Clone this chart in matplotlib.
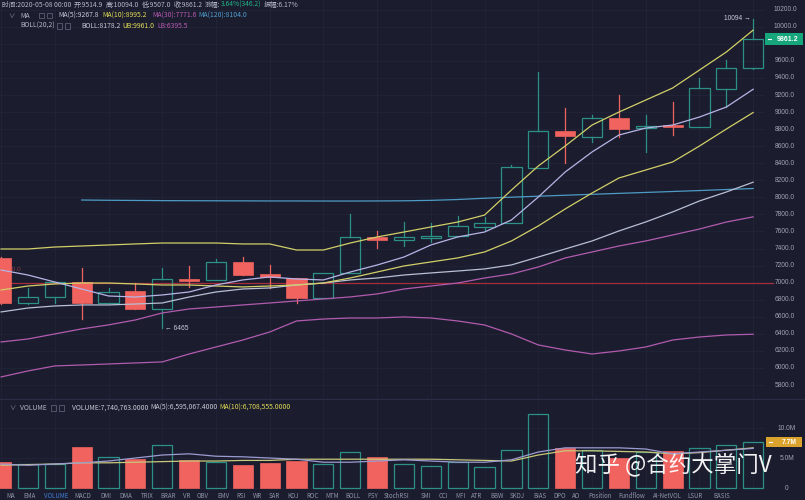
import numpy as np
import matplotlib
matplotlib.use('Agg')
import matplotlib.pyplot as plt
from matplotlib.patches import Rectangle
from matplotlib.transforms import blended_transform_factory

# ---------------- data ----------------
opens  = [7290, 6762, 6832, 7005, 6762, 6903, 6692, 7043, 7032, 7243, 7102, 7055, 6821, 7114,
          7533, 7500, 7524, 7547, 7653, 7700, 8342, 8776, 8706, 8929, 8813, 8848, 8825, 9270, 9514.9]
closes = [6762, 6832, 7008, 6762, 6895, 6692, 7043, 7025, 7243, 7090, 7067, 6821, 7114, 7536,
          7500, 7533, 7547, 7665, 7700, 8357, 8776, 8717, 8929, 8800, 8837, 8825, 9282, 9516, 9861.2]
highs  = [7300, 6937, 7008, 7172, 6937, 7000, 7172, 7196, 7278, 7301, 7207, 7055, 7114, 7805,
          7606, 7711, 7700, 7782, 7770, 8377, 9468, 9046, 8964, 9199, 8964, 9117, 9399, 9610, 10094]
lows   = [6750, 6750, 6762, 6575, 6762, 6692, 6465, 6950, 7032, 7090, 6938, 6762, 6821, 7114,
          7407, 7430, 7477, 7547, 7618, 7700, 8342, 8401, 8648, 8706, 8532, 8729, 8825, 9058, 9507]

ma5   = [7149, 7090, 7008, 6926, 6844, 6832, 6856, 6891, 6973, 7032, 7067, 7043, 7032, 7125,
         7207, 7301, 7442, 7536, 7594, 7735, 8004, 8297, 8532, 8731, 8813, 8848, 8942, 9059, 9267.8]
ma10  = [6914, 6961, 6985, 6996, 6996, 6985, 6973, 6973, 6961, 6950, 6961, 6973, 6996, 7055,
         7125, 7196, 7243, 7290, 7360, 7489, 7665, 7864, 8051, 8227, 8321, 8415, 8602, 8801, 8995.2]
ma30  = [6305, 6340, 6399, 6458, 6505, 6563, 6645, 6692, 6715, 6739, 6762, 6786, 6809, 6833,
         6868, 6926, 6961, 6996, 7055, 7102, 7184, 7290, 7360, 7430, 7489, 7559, 7629, 7711, 7771.6]
ma120 = [np.nan, np.nan, np.nan, 7969, 7966, 7964, 7962, 7961, 7960, 7959, 7958, 7958, 7957, 7957,
         7958, 7960, 7965, 7975, 7990, 8002, 8014, 8025, 8036, 8047, 8058, 8069, 8080, 8092, 8104.0]
boll  = [6657, 6703, 6727, 6739, 6739, 6750, 6762, 6832, 6891, 6926, 6938, 6973, 6996, 7032,
         7055, 7090, 7114, 7137, 7161, 7208, 7301, 7395, 7489, 7606, 7712, 7829, 7958, 8063, 8178.2]
ub    = [7395, 7395, 7418, 7430, 7442, 7454, 7465, 7465, 7465, 7454, 7454, 7383, 7383, 7465,
         7536, 7594, 7653, 7711, 7793, 8086, 8368, 8602, 8848, 9000, 9141, 9282, 9493, 9704, 9961.0]
lb    = [5895, 5965, 6024, 6035, 6047, 6059, 6071, 6164, 6246, 6328, 6422, 6551, 6574, 6586,
         6586, 6598, 6586, 6551, 6504, 6399, 6270, 6211, 6164, 6199, 6246, 6328, 6363, 6387, 6395.5]
level_line = 7000

volumes  = [4.33, 4.0, 4.0, 6.83, 5.17, 4.83, 7.17, 4.67, 4.33, 3.83, 4.17, 4.5, 4.0, 6.0,
            5.17, 4.0, 3.67, 4.33, 3.5, 6.33, 12.33, 6.67, 6.33, 5.0, 6.0, 6.17, 6.67, 7.17, 7.74]
vol_ma5  = [4.0, 3.8, 4.0, 4.2, 4.5, 5.0, 5.5, 5.7, 5.3, 5.2, 5.0, 4.8, 4.3, 4.3,
            4.5, 4.7, 4.5, 4.3, 4.3, 4.7, 6.0, 6.7, 6.7, 6.7, 6.5, 5.7, 6.0, 6.3, 6.6]
vol_ma10 = [3.8, 3.9, 4.0, 4.2, 4.2, 4.3, 4.4, 4.5, 4.5, 4.6, 4.6, 4.8, 4.8, 4.8,
            4.8, 4.8, 4.8, 4.7, 4.6, 4.5, 5.5, 6.2, 6.2, 6.1, 6.0, 5.7, 5.9, 6.3, 6.7]

price_ticks = list(range(5800, 10201, 200))
hidden_price_ticks = [9800]          # covered by the current-price box
vol_ticks = [0, 5, 10]
vol_tick_labels = ['0', '5.0M', '10.0M']

toolbar = ['MA', 'EMA', 'VOLUME', 'MACD', 'DMI', 'DMA', 'TRIX', 'BRAR', 'VR', 'OBV', 'EMV', 'RSI',
           'WR', 'SAR', 'KDJ', 'ROC', 'MTM', 'BOLL', 'PSY', 'StochRSI', 'SMI', 'CCI', 'MFI', 'ATR',
           'BBW', 'SKDJ', 'BIAS', 'DPO', 'AO', 'Position', 'Fundflow', 'AI-NetVOL', 'LSUR', 'BASIS']
toolbar_x = [11, 30, 56, 83, 106, 126, 147, 168, 187, 203, 223, 241, 257, 274, 293, 312, 332,
             353, 373, 397, 426, 443, 460, 477, 497, 517, 540, 560, 576, 600, 632, 667, 695, 722]

# ---------------- style ----------------
W, H = 805, 500
BG = '#1b1d2f'
GRID = '#23263a'
TXT = '#b4b8c6'
RED = '#f0635f'
TEAL = '#2b9186'
C_MA5 = '#b7b4e6'
C_BOLL = '#b9bfd4'
C_YEL = '#d2cf68'
C_MAG = '#b25bae'
C_BLUE = '#4d9bc4'
C_LEVEL = '#a52d3e'
CJK = ['Noto Sans CJK SC', 'DejaVu Sans']
NUMF = ['Liberation Sans', 'DejaVu Sans']

fig = plt.figure(figsize=(W / 100, H / 100), dpi=100, facecolor=BG)
RIGHT = 765
MAIN_BOT = 398
VOL_TOP, VOL_BOT = 400, 490
ax = fig.add_axes([0, 1 - MAIN_BOT / H, RIGHT / W, MAIN_BOT / H])
axv = fig.add_axes([0, 1 - VOL_BOT / H, RIGHT / W, (VOL_BOT - VOL_TOP) / H])
ov = fig.add_axes([0, 0, 1, 1])
ov.set_xlim(0, W)
ov.set_ylim(H, 0)
ov.axis('off')
ov.patch.set_alpha(0)

n = len(opens)
x = np.arange(n)
XL = (-0.04, 28.44)
for a in (ax, axv):
    a.set_facecolor(BG)
    a.set_xlim(*XL)
    for s in a.spines.values():
        s.set_visible(False)
    a.set_xticks([])
    a.set_yticks([])
ax.set_ylim(5648, 10314)
axv.set_ylim(-0.33, 14.67)

# grid
for p in price_ticks:
    ax.axhline(p, color=GRID, lw=0.5, zorder=0)
for i in range(0, n, 2):
    ax.axvline(i, color=GRID, lw=0.5, zorder=0)
    axv.axvline(i, color=GRID, lw=0.5, zorder=0)
for v in vol_ticks:
    axv.axhline(v, color=GRID, lw=0.5, zorder=0)

# level line (extends a little into the axis strip)
ax.plot([XL[0], XL[1] + 8 / 26.86], [level_line, level_line], color=C_LEVEL, lw=0.9,
        zorder=1, clip_on=False)
ax.text(0.03, level_line + 150, '7000.0', color='#c04a55', fontsize=4.6, family=NUMF,
        ha='left', va='center', alpha=0.7, zorder=1)

# candles
w = 0.75
minh = 18
for i in range(n):
    o, c, h, l = opens[i], closes[i], highs[i], lows[i]
    if c >= o:
        top, bot = max(c, o + minh), o
        ax.add_patch(Rectangle((i - w / 2, bot), w, top - bot, fill=False,
                               edgecolor=TEAL, lw=0.9, zorder=3))
        if h > top:
            ax.plot([i, i], [top, h], color=TEAL, lw=0.9, zorder=3)
        if l < bot:
            ax.plot([i, i], [l, bot], color=TEAL, lw=0.9, zorder=3)
    else:
        ax.plot([i, i], [l, h], color=RED, lw=0.9, zorder=2)
        hgt = max(o - c, minh)
        ax.add_patch(Rectangle((i - w / 2, c), w, hgt, facecolor=RED,
                               edgecolor=RED, lw=0.5, zorder=3))

# indicator lines
ax.plot(x, ma120, color=C_BLUE, lw=0.9, zorder=4)
ax.plot(x, lb, color=C_MAG, lw=0.9, zorder=4)
ax.plot(x, ma30, color=C_MAG, lw=0.9, zorder=4)
ax.plot(x, boll, color=C_BOLL, lw=0.9, zorder=4)
ax.plot(x, ub, color=C_YEL, lw=0.9, zorder=4)
ax.plot(x, ma10, color=C_YEL, lw=0.9, zorder=4)
ax.plot(x, ma5, color=C_MA5, lw=0.9, zorder=4)

# high / low markers
ax.text(n - 1 - 0.1, highs[-1], '10094 \u2192', color='#c8ccd8', fontsize=4.8, family=NUMF,
        ha='right', va='center', zorder=5)
imin = int(np.argmin(lows))
ax.text(imin + 0.1, lows[imin], '\u2190 6465', color='#c8ccd8', fontsize=4.8, family=NUMF,
        ha='left', va='center', zorder=5)

# right price axis labels
tr = blended_transform_factory(ax.transAxes, ax.transData)
for p in price_ticks:
    if p in hidden_price_ticks:
        continue
    ax.text(785 / RIGHT, p, f'{p:.1f}', transform=tr, color='#9ea3b4', fontsize=4.8,
            family=NUMF, ha='center', va='center', clip_on=False)

# volume bars
for i in range(n):
    v = volumes[i]
    if closes[i] >= opens[i]:
        axv.add_patch(Rectangle((i - w / 2, 0), w, v, fill=False, edgecolor=TEAL, lw=0.9, zorder=3))
    else:
        axv.add_patch(Rectangle((i - w / 2, 0), w, v, facecolor=RED, edgecolor=RED, lw=0.5, zorder=3))
axv.plot(x, vol_ma10, color='#c9c779', lw=0.9, zorder=4)
axv.plot(x, vol_ma5, color='#9c9bd0', lw=0.9, zorder=4)
trv = blended_transform_factory(axv.transAxes, axv.transData)
for v, lab in zip(vol_ticks, vol_tick_labels):
    axv.text(787 / RIGHT, v, lab, transform=trv, color='#9ea3b4', fontsize=4.8,
             family=NUMF, ha='center', va='center', clip_on=False)

# panel separator
ov.plot([0, W], [399, 399], color='#2a2d43', lw=0.8)

# current price / volume boxes
ov.add_patch(Rectangle((765, 33), 38, 12, facecolor='#17a67b', edgecolor='none'))
ov.plot([767.5, 770.5], [39, 39], color='white', lw=0.8)
ov.text(788, 39.3, '9861.2', color='white', fontsize=5, family=NUMF, weight='bold',
        ha='center', va='center')
ov.add_patch(Rectangle((766, 437), 36, 10, facecolor='#dba22d', edgecolor='none'))
ov.plot([768.5, 771.5], [442, 442], color='white', lw=0.8)
ov.text(789, 442.3, '7.7M', color='white', fontsize=4.8, family=NUMF, weight='bold',
        ha='center', va='center')

# header texts
renderer = fig.canvas.get_renderer()


def seq(x0, y, pieces, fs):
    xx = x0
    for txt, col, gap in pieces:
        t = ov.text(xx, y, txt, color=col, fontsize=fs, family=CJK, ha='left', va='center')
        bb = t.get_window_extent(renderer=renderer)
        xx += bb.width + gap
    return xx


GREEN_TXT = '#21b585'
seq(2, 5, [('时间:2020-05-08 00:00', TXT, 2.5), ('开:9514.9', TXT, 2.5), ('高:10094.0', TXT, 2.5),
           ('低:9507.0', TXT, 2.5), ('收:9861.2', TXT, 2.5), ('涨幅:', TXT, 0),
           ('3.64%(346.2)', GREEN_TXT, 2.5), ('振幅:6.17%', TXT, 0)], 4.85)


def icons(x0, y):
    for dx in (0, 8):
        ov.add_patch(Rectangle((x0 + dx, y - 2.6), 5, 5.2, fill=False, edgecolor='#5a5e72', lw=0.6))


FS = 4.9
ov.text(8, 15.5, '\u2228', color='#8a8fa2', fontsize=4.5, family=CJK, ha='left', va='center')
ov.text(20, 15.5, 'MA', color=TXT, fontsize=FS, family=CJK, ha='left', va='center')
icons(39, 15.5)
ov.text(58, 15.5, 'MA(5):9267.8', color='#c9c9d6', fontsize=FS, family=CJK, ha='left', va='center')
ov.text(102, 15.5, 'MA(10):8995.2', color='#e2dc55', fontsize=FS, family=CJK, ha='left', va='center')
ov.text(152, 15.5, 'MA(30):7771.6', color='#b85ab4', fontsize=FS, family=CJK, ha='left', va='center')
ov.text(198, 15.5, 'MA(120):8104.0', color='#4f9fd0', fontsize=FS, family=CJK, ha='left', va='center')

ov.text(20, 26, 'BOLL(20,2)', color=TXT, fontsize=FS, family=CJK, ha='left', va='center')
icons(57, 26)
ov.text(81, 26, 'BOLL:8178.2', color='#c9c9d6', fontsize=FS, family=CJK, ha='left', va='center')
ov.text(122, 26, 'UB:9961.0', color='#e2dc55', fontsize=FS, family=CJK, ha='left', va='center')
ov.text(157, 26, 'LB:6395.5', color='#b85ab4', fontsize=FS, family=CJK, ha='left', va='center')

ov.text(9, 408, '\u2228', color='#8a8fa2', fontsize=4.5, family=CJK, ha='left', va='center')
ov.text(20, 408, 'VOLUME', color=TXT, fontsize=FS, family=CJK, ha='left', va='center')
icons(51, 408)
ov.text(72, 408, 'VOLUME:7,740,763.0000', color='#c9c9d6', fontsize=FS, family=CJK, ha='left', va='center')
ov.text(150, 408, 'MA(5):6,595,067.4000', color='#c9c9d6', fontsize=FS, family=CJK, ha='left', va='center')
ov.text(219, 408, 'MA(10):6,708,555.0000', color='#e2dc55', fontsize=FS, family=CJK, ha='left', va='center')

# bottom toolbar
for lab, px in zip(toolbar, toolbar_x):
    col = '#3f7fd8' if lab == 'VOLUME' else '#8f94a6'
    ov.text(px, 496.5, lab, color=col, fontsize=4.4, family=CJK, ha='center', va='center')

# watermark
ov.text(575, 465, '知乎 @合约大掌门V', color='white', fontsize=16.2, family=CJK,
        ha='left', va='center', alpha=0.95)

fig.savefig('out.png', dpi=100, facecolor=BG)
